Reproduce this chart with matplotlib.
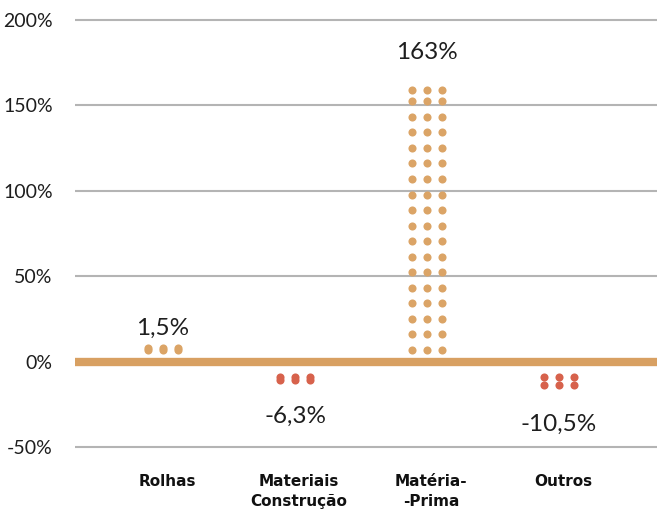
import numpy as np
import matplotlib
matplotlib.use("Agg")
import matplotlib.pyplot as plt

categories = ["Rolhas", "Materiais\nConstrução", "Matéria-\n-Prima", "Outros"]
values = [1.5, -6.3, 163.0, -10.5]
value_labels = ["1,5%", "-6,3%", "163%", "-10,5%"]
yticks = [-50, 0, 50, 100, 150, 200]
ytick_labels = ["-50%", "0%", "50%", "100%", "150%", "200%"]

pos_color = "#dba466"
neg_color = "#d7624c"
base_color = "#d8a062"
grid_color = "#b4b4b4"
text_color = "#1e1e1e"

step = 9.1  # spacing between dot rows, in %


def dot_rows(v):
    # rows of dots stacked from the baseline towards the value
    a = abs(v)
    if v >= 0:
        first = 6.8
        rows = list(np.arange(first, a - 4.4, step))
        if not rows:
            rows = [first]
        rows.append(max(a - 4.2, first + 1.3))
    else:
        first = 8.9
        rows = [first, max(a + 3.0, first + 1.6)]
    return np.sign(v) * np.array(rows)


fig = plt.figure(figsize=(6.57, 5.12), dpi=100)
ax = fig.add_axes([75 / 657, 0, 582 / 657, 1])
ax.set_xlim(-0.667, 3.742)
ax.set_ylim(-88, 211.7)

for t in yticks:
    if t != 0:
        ax.axhline(t, color=grid_color, lw=1.5, zorder=1)
ax.axhline(0, color=base_color, lw=6, zorder=2)

x = np.arange(len(categories))
cols = [-0.114, 0, 0.114]
for xi, v in zip(x, values):
    c = pos_color if v >= 0 else neg_color
    for r in dot_rows(v):
        ax.scatter([xi + d for d in cols], [r] * 3, s=34, color=c,
                   linewidths=0, zorder=3)

for xi, v, lab in zip(x, values, value_labels):
    y = v + 18 if v >= 0 else v - 26
    ax.text(xi, y, lab, ha="center", va="center", fontsize=17.5,
            family="Lato", color=text_color)

ax.set_yticks(yticks)
ax.set_yticklabels(ytick_labels, family="Lato", fontsize=14, color=text_color)
ax.tick_params(axis="y", length=0, pad=16)
ax.set_xticks([])
for s in ax.spines.values():
    s.set_visible(False)

for xi, cat in zip(x, categories):
    ax.text(xi + 0.03, -66.0, cat, ha="center", va="top", fontsize=11,
            fontweight="bold", linespacing=1.4, color="#111111")

fig.savefig("out.png", dpi=100)
